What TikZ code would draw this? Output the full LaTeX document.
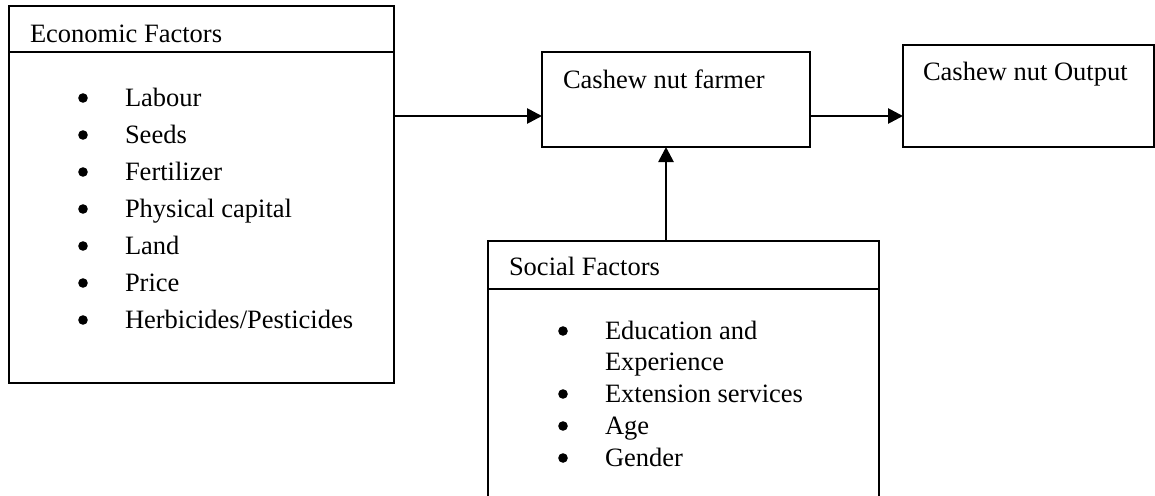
\documentclass[tikz,border=0pt]{standalone}
\usepackage{fontspec}
\setmainfont{Liberation Serif}
\usetikzlibrary{arrows.meta}
\begin{document}
\begin{tikzpicture}[x=1pt,y=-1pt,
  box/.style={draw=black, line width=2pt, inner sep=0pt, outer sep=0pt, fill=none},
  txt/.style={inner sep=0pt, outer sep=0pt, anchor=base west, font=\fontsize{26.5}{32}\selectfont},
  arr/.style={line width=2.7pt, -{Triangle[length=15pt,width=15pt]}},
  bul/.style={fill=black}
]
\useasboundingbox (0,0) rectangle (1155,495);
\clip (0,0) rectangle (1155,495);
\fill[white] (0,0) rectangle (1155,495);

% boxes
\node[box, minimum width=385pt, minimum height=377pt, anchor=north west] (eco) at (9,6) {};
\node[box, minimum width=268pt, minimum height=95pt, anchor=north west] (farmer) at (542,52) {};
\node[box, minimum width=251pt, minimum height=102pt, anchor=north west] (output) at (903,45) {};
\node[box, minimum width=391pt, minimum height=290pt, anchor=north west] (social) at (488,241) {};

% header dividers
\coordinate (ecodiv) at (0,52);
\coordinate (socdiv) at (0,289);
\draw[line width=2pt] (eco.west |- ecodiv) -- (eco.east |- ecodiv);
\draw[line width=2pt] (social.west |- socdiv) -- (social.east |- socdiv);

% texts
\node[txt] (ecot) at (30,42) {Economic Factors};
\node[txt] (e1) at (125,106) {Labour};
\node[txt] (e2) at (125,143) {Seeds};
\node[txt] (e3) at (125,180) {Fertilizer};
\node[txt] (e4) at (125,217) {Physical capital};
\node[txt] (e5) at (125,254) {Land};
\node[txt] (e6) at (125,291) {Price};
\node[txt] (e7) at (125,328) {Herbicides/Pesticides};
\foreach \n in {e1,e2,e3,e4,e5,e6,e7}
  \fill[bul] ([xshift=-42pt,yshift=8pt]\n.base west) circle (4.8pt);

\node[txt] (fart) at (563,88) {Cashew nut farmer};
\node[txt] (outt) at (923,81) {Cashew nut Output};

\node[txt] (soct) at (509,275) {Social Factors};
\node[txt] (s1) at (605,339) {Education and};
\node[txt] (s1b) at (605,370) {Experience};
\node[txt] (s2) at (605,402) {Extension services};
\node[txt] (s3) at (605,434) {Age};
\node[txt] (s4) at (605,466) {Gender};
\foreach \n in {s1,s2,s3,s4}
  \fill[bul] ([xshift=-42pt,yshift=8pt]\n.base west) circle (4.8pt);

% connectors
\coordinate (h) at (0,116);
\coordinate (v) at (666,0);
\draw[arr] (eco.east |- h) -- (farmer.west |- h);
\draw[arr] (farmer.east |- h) -- (output.west |- h);
\draw[arr] (social.north -| v) -- (farmer.south -| v);
\end{tikzpicture}
\end{document}
